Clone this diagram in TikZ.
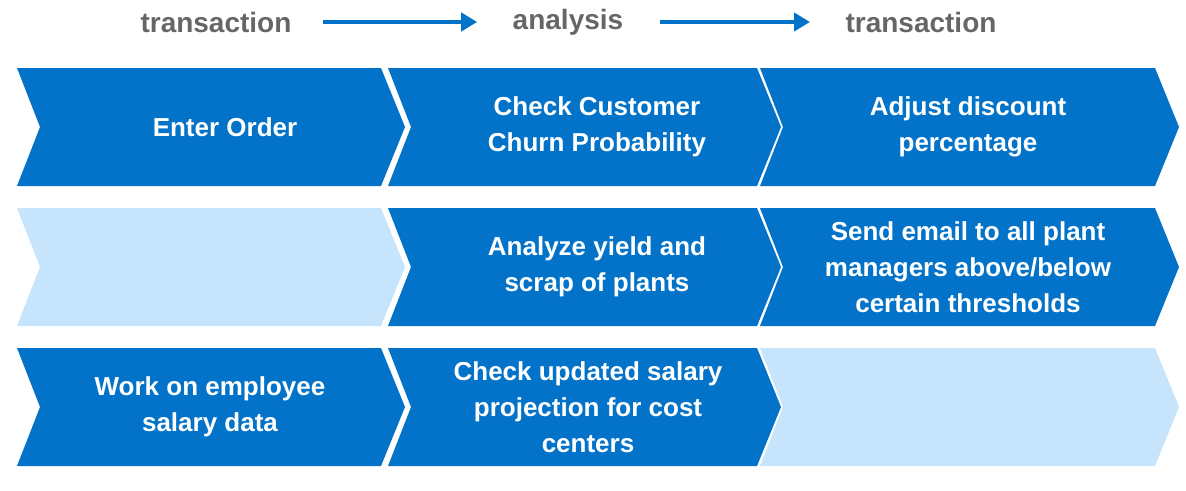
\documentclass[tikz,border=0pt]{standalone}
\usepackage{fontspec}
\setmainfont{Liberation Sans}
\begin{document}
\begin{tikzpicture}[x=1pt,y=-1pt,
  lbl/.style={font=\bfseries\fontsize{26}{36}\selectfont,text=white,align=center},
  hd/.style={font=\bfseries\fontsize{28}{34}\selectfont,text=gray!80!black},
  harr/.style={draw=blue1,line width=4pt,-{Triangle[length=16pt,width=18pt]}}]
\usetikzlibrary{arrows.meta}
\definecolor{blue1}{HTML}{0273C9}
\definecolor{light1}{HTML}{C6E4FB}
\useasboundingbox (0,0) rectangle (1186,490);
\newcommand{\chev}[4]{% x0 x1 ytop color
  \fill[#4] (#1,#3) -- (#2,#3) -- (#2+24,#3+59) -- (#2,#3+118) -- (#1,#3+118) -- (#1+23,#3+59) -- cycle;}
\chev{17}{381}{68}{blue1}
\chev{388}{757}{68}{blue1}
\chev{760}{1155}{68}{blue1}
\chev{17}{381}{208}{light1}
\chev{388}{757}{208}{blue1}
\chev{760}{1155}{208}{blue1}
\chev{17}{381}{348}{blue1}
\chev{388}{757}{348}{blue1}
\chev{760}{1155}{348}{light1}
\node[hd] (h1) at (216,22) {transaction};
\node[hd] (h2) at (568,22) {analysis};
\node[hd] (h3) at (921,22) {transaction};
\draw[harr] (h1.east)+(28,0) -- ([xshift=-32pt]h2.west);
\draw[harr] (h2.east)+(33,0) -- ([xshift=-32pt]h3.west);
\node[lbl] (a1) at (225,127) {Enter Order};
\node[lbl] (a2) at (597,127) {Check Customer\\Churn Probability};
\node[lbl] (a3) at (968,127) {Adjust discount\\percentage};
\node[lbl] (b2) at (597,267) {Analyze yield and\\scrap of plants};
\node[lbl] (b3) at (968,267) {Send email to all plant\\managers above/below\\certain thresholds};
\node[lbl] (c1) at (210,407) {Work on employee\\salary data};
\node[lbl] (c2) at (588,407) {Check updated salary\\projection for cost\\centers};
\end{tikzpicture}
\end{document}
